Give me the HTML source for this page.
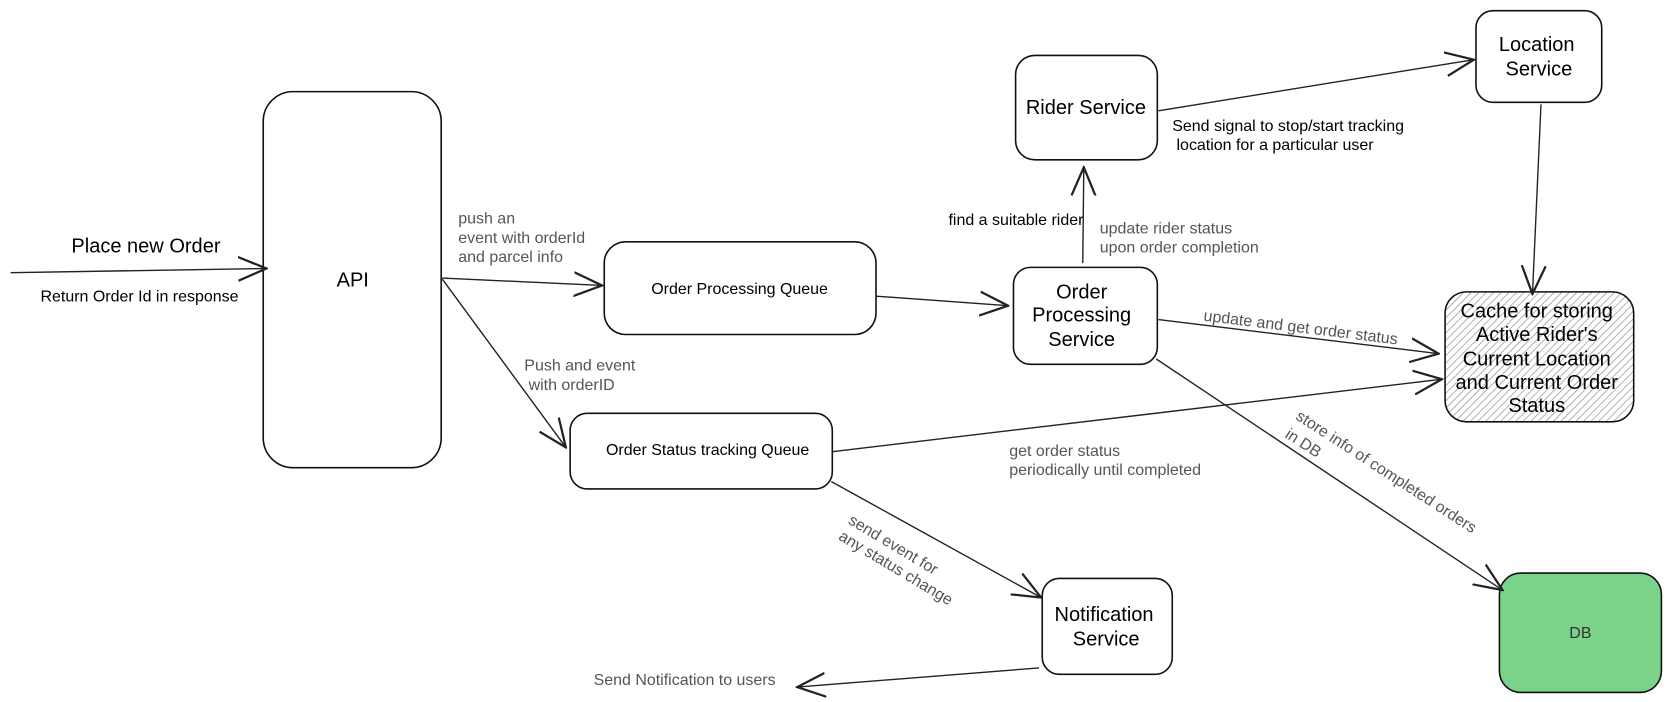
<!DOCTYPE html>
<html><head><meta charset="utf-8"><style>
html,body{margin:0;padding:0;background:#fff;width:1671px;height:702px;overflow:hidden}
svg{display:block}
text{font-family:"Liberation Sans",sans-serif}
.b{fill:#fff;stroke:#111;stroke-width:1.5}
.l{stroke:#222;stroke-width:1.3;fill:none}
.g{fill:#555;font-size:15px}
.k{fill:#000;font-size:15px}
.n{fill:#000;font-size:18.8px;text-anchor:middle}
</style></head><body>
<svg width="1671" height="702" viewBox="0 0 1568 659" preserveAspectRatio="none">
<defs>
<pattern id="h" width="5" height="5" patternUnits="userSpaceOnUse" patternTransform="rotate(45)">
<rect width="5" height="5" fill="#fff"/><line x1="0" y1="0" x2="0" y2="5" stroke="#888" stroke-width="1.2"/></pattern>
<marker id="a" viewBox="0 0 20 20" refX="19" refY="10" markerWidth="28" markerHeight="28" markerUnits="userSpaceOnUse" orient="auto">
<path d="M0,2 L19,10 L0,18" fill="none" stroke="#222" stroke-width="1.5"/></marker>
</defs>
<rect class="b" x="247" y="86" width="167" height="353" rx="28"/>
<text class="n" x="331" y="269">API</text>
<rect class="b" x="567" y="227" width="255" height="87" rx="20"/>
<text x="694" y="276" font-size="15" text-anchor="middle">Order Processing Queue</text>
<rect class="b" x="535" y="388" width="246" height="71" rx="16"/>
<text x="664" y="427" font-size="15" text-anchor="middle">Order Status tracking Queue</text>
<rect class="b" x="951" y="251" width="135" height="91" rx="16"/>
<text class="n" x="1015" y="280">Order</text><text class="n" x="1015" y="302">Processing</text><text class="n" x="1015" y="325">Service</text>
<rect class="b" x="953" y="52" width="133" height="98" rx="18"/>
<text class="n" x="1019" y="107">Rider Service</text>
<rect class="b" x="1385" y="10" width="118" height="86" rx="16"/>
<text class="n" x="1442" y="48">Location</text><text class="n" x="1444" y="71">Service</text>
<rect x="1356" y="274" width="177" height="122" rx="20" fill="url(#h)" stroke="#111" stroke-width="1.5"/>
<text class="n" x="1442" y="298">Cache for storing</text><text class="n" x="1442" y="320">Active Rider's</text><text class="n" x="1442" y="343">Current Location</text><text class="n" x="1442" y="365">and Current Order</text><text class="n" x="1442" y="387">Status</text>
<rect class="b" x="978" y="543" width="122" height="90" rx="16"/>
<text class="n" x="1036" y="583">Notification</text><text class="n" x="1038" y="606">Service</text>
<rect x="1407" y="538" width="152" height="112" rx="20" fill="#7bd389" stroke="#111" stroke-width="1.5"/>
<text x="1483" y="599" font-size="15" fill="#333" text-anchor="middle">DB</text>
<line class="l" x1="10" y1="256" x2="250" y2="252" marker-end="url(#a)"/>
<text x="67" y="237" font-size="18.8">Place new Order</text>
<text class="k" x="38" y="283">Return Order Id in response</text>
<line class="l" x1="415" y1="261" x2="565" y2="268" marker-end="url(#a)"/>
<text class="g" x="430" y="210">push an</text><text class="g" x="430" y="228">event with orderId</text><text class="g" x="430" y="246">and parcel info</text>
<line class="l" x1="415" y1="262" x2="531" y2="420" marker-end="url(#a)"/>
<text class="g" x="492" y="348">Push and event</text><text class="g" x="496" y="366">with orderID</text>
<line class="l" x1="822" y1="278" x2="946" y2="287" marker-end="url(#a)"/>
<line class="l" x1="1016" y1="247" x2="1017" y2="157" marker-end="url(#a)"/>
<text class="k" x="890" y="211">find a suitable rider</text>
<text class="g" x="1032" y="219">update rider status</text><text class="g" x="1032" y="237">upon order completion</text>
<line class="l" x1="1087" y1="104" x2="1383" y2="56" marker-end="url(#a)"/>
<text class="k" x="1100" y="123">Send signal to stop/start tracking</text><text class="k" x="1104" y="141">location for a particular user</text>
<line class="l" x1="1446" y1="98" x2="1438" y2="276" marker-end="url(#a)"/>
<line class="l" x1="1087" y1="300" x2="1350" y2="332" marker-end="url(#a)"/>
<text class="g" x="1129" y="301" transform="rotate(7 1129 301)">update and get order status</text>
<line class="l" x1="781" y1="424" x2="1353" y2="356" marker-end="url(#a)"/>
<text class="g" x="947" y="428">get order status</text><text class="g" x="947" y="446">periodically until completed</text>
<line class="l" x1="1085" y1="337" x2="1410" y2="554" marker-end="url(#a)"/>
<text class="g" x="1215" y="393" transform="rotate(33 1215 393)">store info of completed orders</text>
<text class="g" x="1205" y="410" transform="rotate(33 1205 410)">in DB</text>
<line class="l" x1="780" y1="452" x2="977" y2="561" marker-end="url(#a)"/>
<text class="g" x="795" y="491" transform="rotate(31 795 491)">send event for</text>
<text class="g" x="786" y="506" transform="rotate(31 786 506)">any status change</text>
<line class="l" x1="975" y1="627" x2="748" y2="645" marker-end="url(#a)"/>
<text class="g" x="557" y="643">Send Notification to users</text>
</svg>
</body></html>
